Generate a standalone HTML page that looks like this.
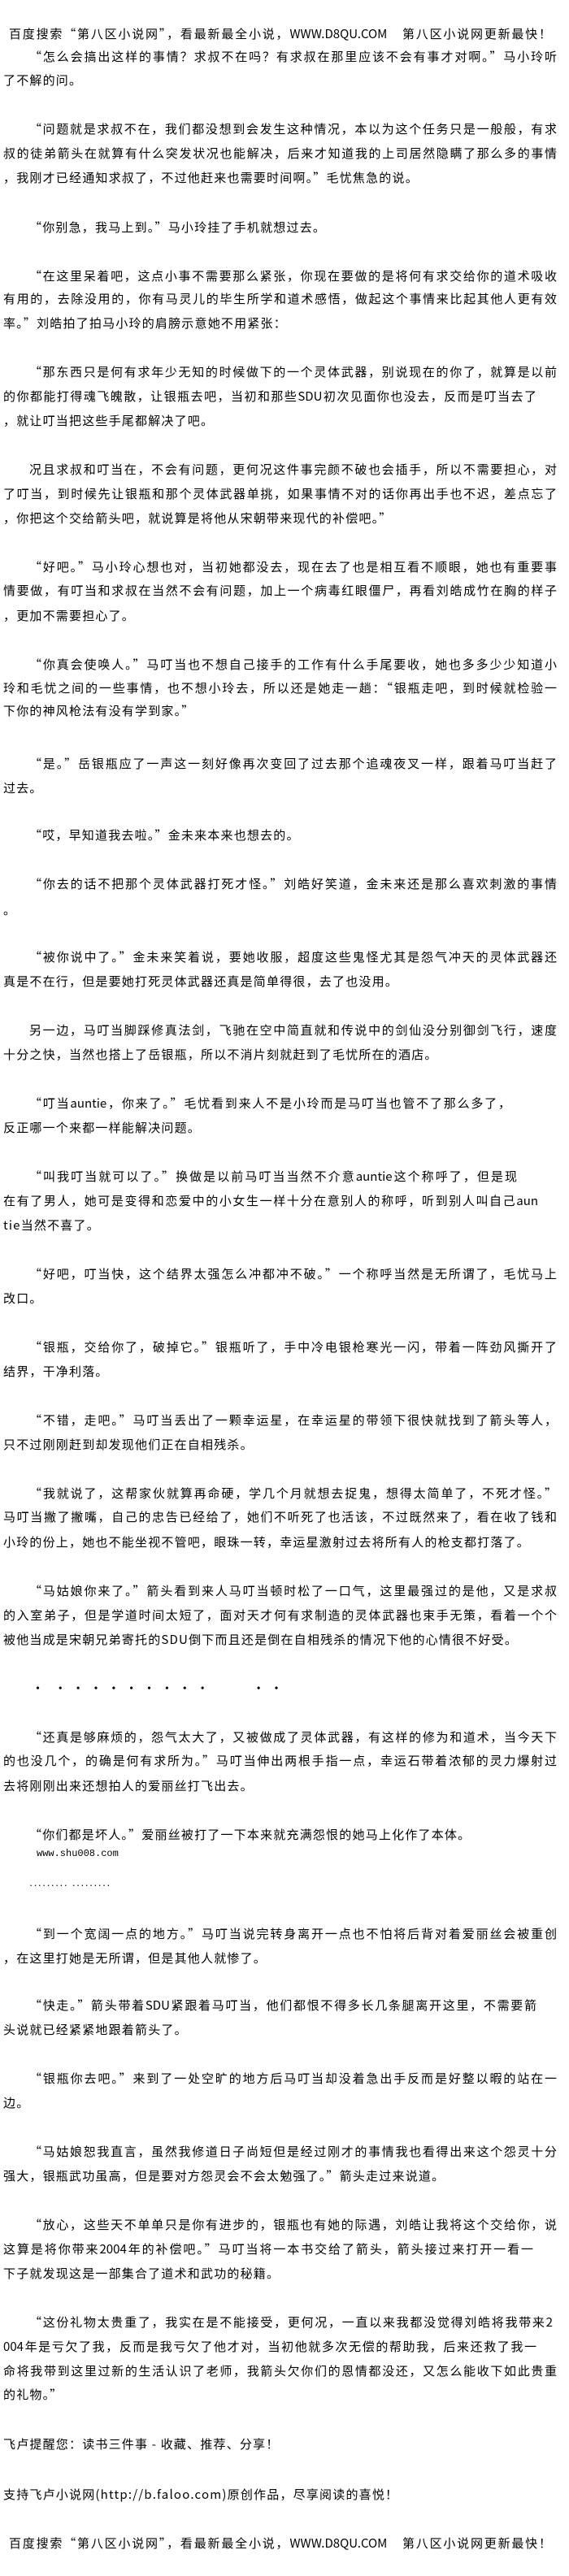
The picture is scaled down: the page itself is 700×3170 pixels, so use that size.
<!DOCTYPE html>
<html><head><meta charset="utf-8">
<style>
html,body{margin:0;padding:0;background:#fff;}
body{width:700px;height:3170px;position:relative;overflow:hidden;font-family:"Noto Sans CJK SC","Liberation Sans",sans-serif;font-size:15px;color:#000;}
.l{position:absolute;height:20px;line-height:20px;white-space:nowrap;letter-spacing:1.2px;}
.j{text-align:justify;text-align-last:justify;letter-spacing:0;}
.i{left:36px;width:649px;}
.n{left:4px;width:681px;}
.s{left:4px;}
.si{left:36px;}
</style></head><body>
<div class="l j" style="top:32px;left:11px;width:667px">百度搜索“第八区小说网”，看最新最全小说，WWW.D8QU.COM　第八区小说网更新最快！</div>
<div class="l j i" style="top:60px">“怎么会搞出这样的事情？求叔不在吗？有求叔在那里应该不会有事才对啊。”马小玲听</div>
<div class="l s" style="top:89px">了不解的问。</div>
<div class="l j i" style="top:149px">“问题就是求叔不在，我们都没想到会发生这种情况，本以为这个任务只是一般般，有求</div>
<div class="l j n" style="top:179px">叔的徒弟箭头在就算有什么突发状况也能解决，后来才知道我的上司居然隐瞒了那么多的事情</div>
<div class="l s" style="top:209px">，我刚才已经通知求叔了，不过他赶来也需要时间啊。”毛忧焦急的说。</div>
<div class="l si" style="top:270px">“你别急，我马上到。”马小玲挂了手机就想过去。</div>
<div class="l j i" style="top:330px">“在这里呆着吧，这点小事不需要那么紧张，你现在要做的是将何有求交给你的道术吸收</div>
<div class="l j n" style="top:358px">有用的，去除没用的，你有马灵儿的毕生所学和道术感悟，做起这个事情来比起其他人更有效</div>
<div class="l s" style="top:388px">率。”刘皓拍了拍马小玲的肩膀示意她不用紧张：</div>
<div class="l j i" style="top:448px">“那东西只是何有求年少无知的时候做下的一个灵体武器，别说现在的你了，就算是以前</div>
<div class="l j" style="top:478px;left:4px;width:656px">的你都能打得魂飞魄散，让银瓶去吧，当初和那些SDU初次见面你也没去，反而是叮当去了</div>
<div class="l s" style="top:508px">，就让叮当把这些手尾都解决了吧。</div>
<div class="l j i" style="top:568px">况且求叔和叮当在，不会有问题，更何况这件事完颜不破也会插手，所以不需要担心，对</div>
<div class="l j n" style="top:598px">了叮当，到时候先让银瓶和那个灵体武器单挑，如果事情不对的话你再出手也不迟，差点忘了</div>
<div class="l s" style="top:628px">，你把这个交给箭头吧，就说算是将他从宋朝带来现代的补偿吧。”</div>
<div class="l j i" style="top:688px">“好吧。”马小玲心想也对，当初她都没去，现在去了也是相互看不顺眼，她也有重要事</div>
<div class="l j n" style="top:717px">情要做，有叮当和求叔在当然不会有问题，加上一个病毒红眼僵尸，再看刘皓成竹在胸的样子</div>
<div class="l s" style="top:748px">，更加不需要担心了。</div>
<div class="l j i" style="top:808px">“你真会使唤人。”马叮当也不想自己接手的工作有什么手尾要收，她也多多少少知道小</div>
<div class="l j n" style="top:837px">玲和毛忧之间的一些事情，也不想小玲去，所以还是她走一趟：“银瓶走吧，到时候就检验一</div>
<div class="l s" style="top:865px">下你的神风枪法有没有学到家。”</div>
<div class="l j i" style="top:930px">“是。”岳银瓶应了一声这一刻好像再次变回了过去那个追魂夜叉一样，跟着马叮当赶了</div>
<div class="l s" style="top:960px">过去。</div>
<div class="l si" style="top:1018px">“哎，早知道我去啦。”金未来本来也想去的。</div>
<div class="l j i" style="top:1078px">“你去的话不把那个灵体武器打死才怪。”刘皓好笑道，金未来还是那么喜欢刺激的事情</div>
<div class="l s" style="top:1110px">。</div>
<div class="l j i" style="top:1168px">“被你说中了。”金未来笑着说，要她收服，超度这些鬼怪尤其是怨气冲天的灵体武器还</div>
<div class="l s" style="top:1198px">真是不在行，但是要她打死灵体武器还真是简单得很，去了也没用。</div>
<div class="l j i" style="top:1258px">另一边，马叮当脚踩修真法剑，飞驰在空中简直就和传说中的剑仙没分别御剑飞行，速度</div>
<div class="l s" style="top:1288px">十分之快，当然也搭上了岳银瓶，所以不消片刻就赶到了毛忧所在的酒店。</div>
<div class="l j" style="top:1348px;left:36px;width:592px">“叮当auntie，你来了。”毛忧看到来人不是小玲而是马叮当也管不了那么多了，</div>
<div class="l s" style="top:1378px">反正哪一个来都一样能解决问题。</div>
<div class="l j" style="top:1438px;left:36px;width:600px">“叫我叮当就可以了。”换做是以前马叮当当然不介意auntie这个称呼了，但是现</div>
<div class="l j" style="top:1468px;left:4px;width:658px">在有了男人，她可是变得和恋爱中的小女生一样十分在意别人的称呼，听到别人叫自己aun</div>
<div class="l s" style="top:1498px">tie当然不喜了。</div>
<div class="l j i" style="top:1558px">“好吧，叮当快，这个结界太强怎么冲都冲不破。”一个称呼当然是无所谓了，毛忧马上</div>
<div class="l s" style="top:1588px">改口。</div>
<div class="l j i" style="top:1648px">“银瓶，交给你了，破掉它。”银瓶听了，手中冷电银枪寒光一闪，带着一阵劲风撕开了</div>
<div class="l s" style="top:1678px">结界，干净利落。</div>
<div class="l j i" style="top:1738px">“不错，走吧。”马叮当丢出了一颗幸运星，在幸运星的带领下很快就找到了箭头等人，</div>
<div class="l s" style="top:1768px">只不过刚刚赶到却发现他们正在自相残杀。</div>
<div class="l j i" style="top:1828px">“我就说了，这帮家伙就算再命硬，学几个月就想去捉鬼，想得太简单了，不死才怪。”</div>
<div class="l j n" style="top:1857px">马叮当撇了撇嘴，自己的忠告已经给了，她们不听死了也活该，不过既然来了，看在收了钱和</div>
<div class="l s" style="top:1888px">小玲的份上，她也不能坐视不管吧，眼珠一转，幸运星激射过去将所有人的枪支都打落了。</div>
<div class="l j i" style="top:1948px">“马姑娘你来了。”箭头看到来人马叮当顿时松了一口气，这里最强过的是他，又是求叔</div>
<div class="l j n" style="top:1978px">的入室弟子，但是学道时间太短了，面对天才何有求制造的灵体武器也束手无策，看着一个个</div>
<div class="l s" style="top:2008px">被他当成是宋朝兄弟寄托的SDU倒下而且还是倒在自相残杀的情况下他的心情很不好受。</div>
<div class="l" style="top:2067px;left:40px;letter-spacing:0;font-size:13px;font-weight:bold">•&nbsp;&nbsp;&nbsp;&nbsp;&nbsp;•&nbsp;&nbsp;&nbsp;•&nbsp;&nbsp;&nbsp;•&nbsp;&nbsp;&nbsp;•&nbsp;&nbsp;&nbsp;•&nbsp;&nbsp;&nbsp;•&nbsp;&nbsp;&nbsp;•&nbsp;&nbsp;&nbsp;•&nbsp;&nbsp;&nbsp;•&nbsp;&nbsp;&nbsp;&nbsp;&nbsp;&nbsp;&nbsp;&nbsp;&nbsp;&nbsp;&nbsp;&nbsp;&nbsp;&nbsp;&nbsp;&nbsp;&nbsp;&nbsp;&nbsp;•&nbsp;&nbsp;&nbsp;•</div>
<div class="l j i" style="top:2128px">“还真是够麻烦的，怨气太大了，又被做成了灵体武器，有这样的修为和道术，当今天下</div>
<div class="l j n" style="top:2157px">的也没几个，的确是何有求所为。”马叮当伸出两根手指一点，幸运石带着浓郁的灵力爆射过</div>
<div class="l s" style="top:2188px">去将刚刚出来还想拍人的爱丽丝打飞出去。</div>
<div class="l si" style="top:2248px">“你们都是坏人。”爱丽丝被打了一下本来就充满怨恨的她马上化作了本体。</div>
<div class="l" style="top:2271px;left:45px;letter-spacing:0;font-family:'Liberation Mono',monospace;font-size:12px">www.shu008.com</div>
<div class="l" style="top:2310px;left:36px;letter-spacing:1px;font-size:13px;font-family:'Liberation Sans',sans-serif">········· ·········</div>
<div class="l j i" style="top:2370px">“到一个宽阔一点的地方。”马叮当说完转身离开一点也不怕将后背对着爱丽丝会被重创</div>
<div class="l s" style="top:2400px">，在这里打她是无所谓，但是其他人就惨了。</div>
<div class="l j" style="top:2458px;left:36px;width:624px">“快走。”箭头带着SDU紧跟着马叮当，他们都恨不得多长几条腿离开这里，不需要箭</div>
<div class="l s" style="top:2488px">头说就已经紧紧地跟着箭头了。</div>
<div class="l j i" style="top:2548px">“银瓶你去吧。”来到了一处空旷的地方后马叮当却没着急出手反而是好整以暇的站在一</div>
<div class="l s" style="top:2578px">边。</div>
<div class="l j i" style="top:2638px">“马姑娘恕我直言，虽然我修道日子尚短但是经过刚才的事情我也看得出来这个怨灵十分</div>
<div class="l s" style="top:2668px">强大，银瓶武功虽高，但是要对方怨灵会不会太勉强了。”箭头走过来说道。</div>
<div class="l j i" style="top:2728px">“放心，这些天不单单只是你有进步的，银瓶也有她的际遇，刘皓让我将这个交给你，说</div>
<div class="l j" style="top:2758px;left:4px;width:652px">这算是将你带来2004年的补偿吧。”马叮当将一本书交给了箭头，箭头接过来打开一看一</div>
<div class="l s" style="top:2788px">下子就发现这是一部集合了道术和武功的秘籍。</div>
<div class="l j" style="top:2848px;left:36px;width:644px">“这份礼物太贵重了，我实在是不能接受，更何况，一直以来我都没觉得刘皓将我带来2</div>
<div class="l j" style="top:2878px;left:4px;width:656px">004年是亏欠了我，反而是我亏欠了他才对，当初他就多次无偿的帮助我，后来还救了我一</div>
<div class="l j n" style="top:2908px">命将我带到这里过新的生活认识了老师，我箭头欠你们的恩情都没还，又怎么能收下如此贵重</div>
<div class="l s" style="top:2937px">的礼物。”</div>
<div class="l s" style="top:2998px">飞卢提醒您：读书三件事 - 收藏、推荐、分享！</div>
<div class="l s" style="top:3060px">支持飞卢小说网(http://b.faloo.com)原创作品，尽享阅读的喜悦！</div>
<div class="l j" style="top:3120px;left:11px;width:667px">百度搜索“第八区小说网”，看最新最全小说，WWW.D8QU.COM　第八区小说网更新最快！</div>
</body></html>
